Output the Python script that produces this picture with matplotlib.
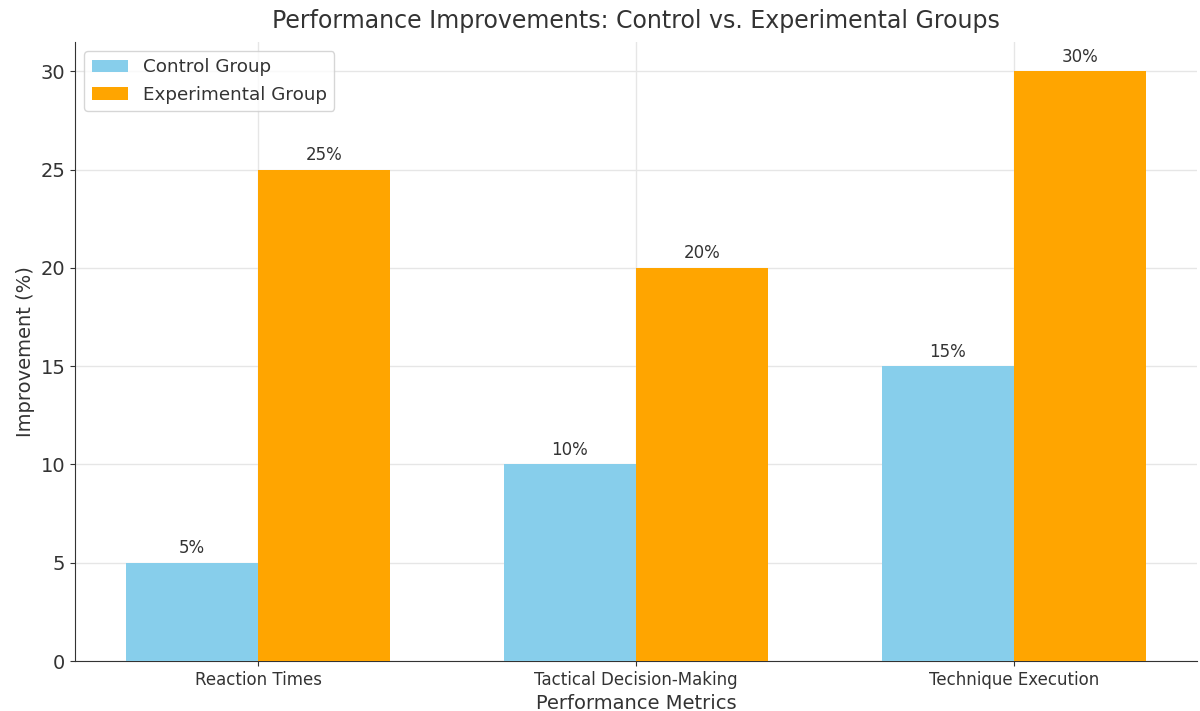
import matplotlib
matplotlib.use("Agg")
import matplotlib.pyplot as plt
import numpy as np

categories = ["Reaction Times", "Tactical Decision-Making", "Technique Execution"]
control = [5, 10, 15]
experimental = [25, 20, 30]
series_names = ["Control Group", "Experimental Group"]

plt.rcParams['font.family'] = ['DejaVu Sans']
fig = plt.figure(figsize=(12, 7.11), dpi=100)
ax = fig.add_axes([0.0625, 0.0703, 0.935, 0.8707])

x = np.arange(len(categories))
w = 0.35
b1 = ax.bar(x - w/2, control, w, color='skyblue', label=series_names[0], zorder=3)
b2 = ax.bar(x + w/2, experimental, w, color='orange', label=series_names[1], zorder=3)

for bars in (b1, b2):
    for r in bars:
        ax.annotate(f"{int(r.get_height())}%", (r.get_x() + r.get_width()/2, r.get_height()),
                    xytext=(0, 4), textcoords='offset points', ha='center', va='bottom',
                    fontsize=12, color='#333333')

ax.set_xticks(x)
ax.set_xticklabels(categories, fontsize=12, color='#333333')
ax.tick_params(axis='y', labelsize=14, colors='#333333')
ax.tick_params(axis='x', colors='#333333')
ax.set_xlabel("Performance Metrics", fontsize=14, color='#333333')
ax.set_ylabel("Improvement (%)", fontsize=14, color='#333333')
ax.set_title("Performance Improvements: Control vs. Experimental Groups", fontsize=17, color='#333333', pad=10)
ax.grid(True, color='#e6e6e6', linewidth=1, zorder=0)
ax.set_axisbelow(True)
for s in ['top', 'right']:
    ax.spines[s].set_visible(False)
ax.spines['left'].set_color('#333333')
ax.spines['bottom'].set_color('#333333')
ax.legend(loc='upper left', fontsize=13.2, labelcolor='#333333')

fig.savefig("out.png", dpi=100)
